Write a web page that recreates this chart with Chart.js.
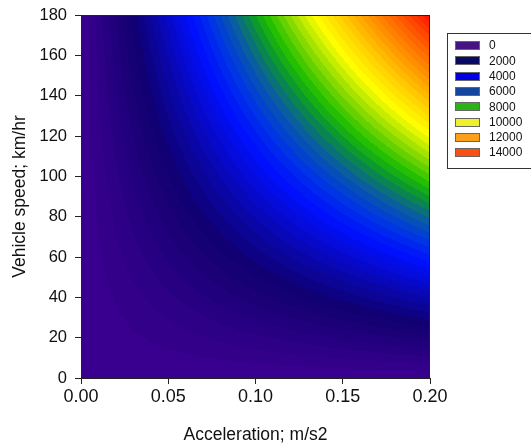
<!DOCTYPE html>
<html>
<head>
<meta charset="utf-8">
<script src="https://cdn.jsdelivr.net/npm/chart.js@4"></script>
<style>
  html, body { margin: 0; padding: 0; background: #fff; }
  #wrap { width: 531px; height: 446px; }
</style>
</head>
<body>
<div id="wrap"><canvas id="c" width="531" height="446"></canvas></div>
<script>
// ---- data ----
const accelerations = [0, 0.05, 0.10, 0.15, 0.20];            // m/s2 (grid columns)
const speeds = [0, 20, 40, 60, 80, 100, 120, 140, 160, 180];  // km/hr (grid rows)
// value at each speed, one array per acceleration column
const valuesAtA000 = [0, 0, 0, 0, 0, 0, 0, 0, 0, 0];
const valuesAtA005 = [0, 420, 830, 1250, 1670, 2080, 2500, 2920, 3330, 3750];
const valuesAtA010 = [0, 830, 1670, 2500, 3330, 4170, 5000, 5830, 6670, 7500];
const valuesAtA015 = [0, 1250, 2500, 3750, 5000, 6250, 7500, 8750, 10000, 11250];
const valuesAtA020 = [0, 1670, 3330, 5000, 6670, 8330, 10000, 11670, 13330, 15000];
const xTicks = [0, 0.05, 0.10, 0.15, 0.20];
const yTicks = [0, 20, 40, 60, 80, 100, 120, 140, 160, 180];
const legendLevels = [0, 2000, 4000, 6000, 8000, 10000, 12000, 14000];

// ---- styles ----
const legendColors = ['#461482', '#0a0a64', '#0000e6', '#1446a0', '#28b414', '#f0f028', '#fa9f1e', '#fa5014'];
const colorStopValues = [0, 2200, 4700, 5600, 6400, 7300, 7900, 9000, 10000, 11000, 12300, 14000, 15000];
const colorStopRGB = [
  [60, 0, 145], [16, 0, 112], [0, 15, 255], [0, 55, 225], [10, 90, 165], [10, 150, 50],
  [30, 190, 0], [150, 222, 0], [255, 255, 0], [255, 212, 0], [255, 150, 0], [255, 70, 0], [255, 15, 0]
];

const grid = [valuesAtA000, valuesAtA005, valuesAtA010, valuesAtA015, valuesAtA020];

function valueAt(a, v) {
  let i = 0;
  while (i < accelerations.length - 2 && a > accelerations[i + 1]) i++;
  let j = 0;
  while (j < speeds.length - 2 && v > speeds[j + 1]) j++;
  const ta = Math.min(1, Math.max(0, (a - accelerations[i]) / (accelerations[i + 1] - accelerations[i])));
  const tv = Math.min(1, Math.max(0, (v - speeds[j]) / (speeds[j + 1] - speeds[j])));
  const z00 = grid[i][j], z10 = grid[i + 1][j], z01 = grid[i][j + 1], z11 = grid[i + 1][j + 1];
  return (z00 * (1 - ta) + z10 * ta) * (1 - tv) + (z01 * (1 - ta) + z11 * ta) * tv;
}

function colorFor(val) {
  const band = 300;
  const q = (Math.floor(val / band) + 0.5) * band;
  const s = colorStopValues;
  if (q <= s[0]) return colorStopRGB[0];
  for (let k = 0; k < s.length - 1; k++) {
    if (q <= s[k + 1]) {
      const t = (q - s[k]) / (s[k + 1] - s[k]);
      const c0 = colorStopRGB[k], c1 = colorStopRGB[k + 1];
      return [c0[0] + (c1[0] - c0[0]) * t, c0[1] + (c1[1] - c0[1]) * t, c0[2] + (c1[2] - c0[2]) * t];
    }
  }
  return colorStopRGB[colorStopRGB.length - 1];
}

const contourPlugin = {
  id: 'contour',
  beforeDatasetsDraw(chart) {
    const { ctx, chartArea, scales } = chart;
    const x0 = Math.round(chartArea.left), y0 = Math.round(chartArea.top);
    const w = Math.round(chartArea.right) - x0, h = Math.round(chartArea.bottom) - y0;
    const img = ctx.createImageData(w, h);
    const aVals = [], vVals = [];
    for (let px = 0; px < w; px++) aVals.push(scales.x.getValueForPixel(x0 + px + 0.5));
    for (let py = 0; py < h; py++) vVals.push(scales.y.getValueForPixel(y0 + py + 0.5));
    for (let py = 0; py < h; py++) {
      for (let px = 0; px < w; px++) {
        const c = colorFor(valueAt(aVals[px], vVals[py]));
        const idx = (py * w + px) * 4;
        img.data[idx] = c[0]; img.data[idx + 1] = c[1]; img.data[idx + 2] = c[2]; img.data[idx + 3] = 255;
      }
    }
    const off = document.createElement('canvas');
    off.width = w; off.height = h;
    off.getContext('2d').putImageData(img, 0, 0);
    ctx.save();
    ctx.drawImage(off, x0, y0);
    ctx.restore();
  },
  afterDraw(chart) {
    const { ctx, chartArea } = chart;
    ctx.save();
    // frame
    ctx.strokeStyle = '#222';
    ctx.lineWidth = 1;
    ctx.strokeRect(Math.round(chartArea.left) + 0.5, Math.round(chartArea.top) + 0.5,
      Math.round(chartArea.right - chartArea.left) - 1, Math.round(chartArea.bottom - chartArea.top) - 1);
    // legend
    const lx = 447, ly = 33;
    ctx.strokeStyle = '#333';
    ctx.strokeRect(lx + 0.5, ly + 0.5, 120, 135);
    ctx.font = '12px "Liberation Sans", Arial, sans-serif';
    ctx.textBaseline = 'middle';
    legendLevels.forEach((lv, k) => {
      const cy = ly + 12.5 + k * 15.3;
      ctx.fillStyle = legendColors[k];
      ctx.fillRect(lx + 8, Math.round(cy - 4.5), 25, 9);
      ctx.strokeStyle = '#666';
      ctx.strokeRect(lx + 8.5, Math.round(cy - 4.5) + 0.5, 24, 8);
      ctx.fillStyle = '#111';
      ctx.fillText(String(lv), lx + 42, cy + 0.5);
    });
    ctx.restore();
  }
};

const fontFam = '"Liberation Sans", Arial, sans-serif';

new Chart(document.getElementById('c'), {
  type: 'scatter',
  data: { datasets: [{ data: [], showLine: false }] },
  plugins: [contourPlugin],
  options: {
    responsive: false,
    animation: false,
    events: [],
    layout: { padding: { top: 15, right: 101, left: 0, bottom: 0 } },
    plugins: { legend: { display: false }, tooltip: { enabled: false } },
    scales: {
      x: {
        type: 'linear', min: 0, max: 0.2,
        afterBuildTicks(s) { s.ticks = xTicks.map(v => ({ value: v })); },
        afterFit(s) { s.height = 68; },
        ticks: { color: '#111', font: { family: fontFam, size: 18 }, padding: 2,
          callback: v => Number(v).toFixed(2), maxRotation: 0, autoSkip: false },
        grid: { drawOnChartArea: false, drawTicks: true, tickLength: 6, color: '#222', tickColor: '#222' },
        border: { display: true, color: '#222' },
        title: { display: true, text: 'Acceleration; m/s2', color: '#111',
          font: { family: fontFam, size: 17.5 }, padding: { top: 0, bottom: 0 } }
      },
      y: {
        type: 'linear', min: 0, max: 180,
        afterBuildTicks(s) { s.ticks = yTicks.map(v => ({ value: v })); },
        afterFit(s) { s.width = 81; s.paddingTop = 5; s.paddingBottom = 5; },
        ticks: { color: '#111', font: { family: fontFam, size: 16.5 }, padding: 8, autoSkip: false },
        grid: { drawOnChartArea: false, drawTicks: true, tickLength: 6, color: '#222', tickColor: '#222' },
        border: { display: true, color: '#222' },
        title: { display: true, text: 'Vehicle speed; km/hr', color: '#111',
          font: { family: fontFam, size: 17.5 }, padding: { top: 10, bottom: 0 } }
      }
    }
  }
});
</script>
</body>
</html>
